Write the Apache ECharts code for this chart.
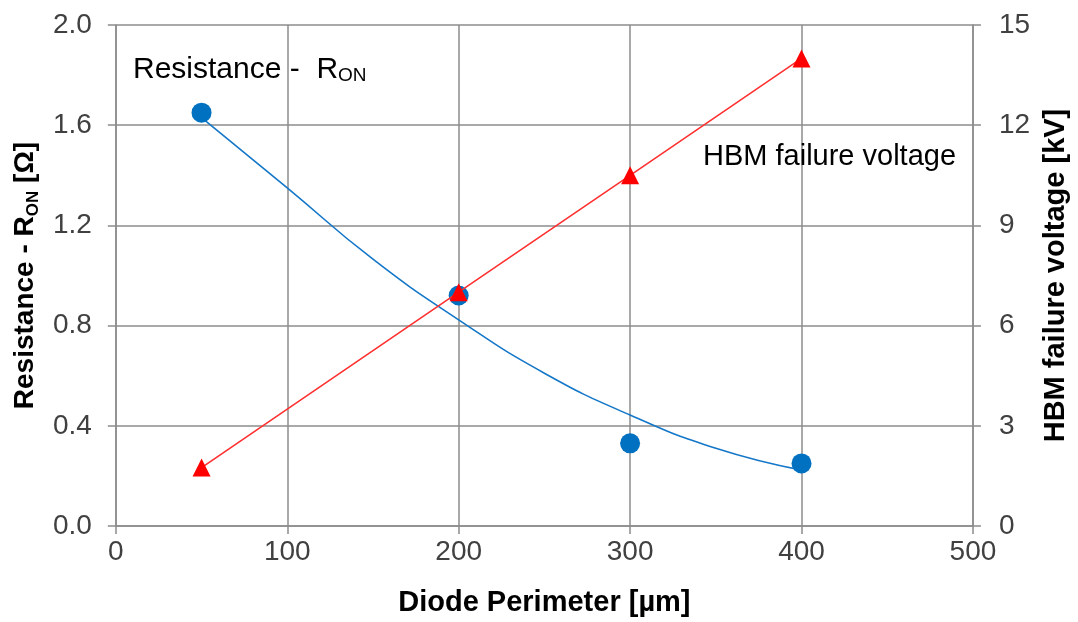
<!DOCTYPE html>
<html>
<head>
<meta charset="utf-8">
<script src="https://cdn.jsdelivr.net/npm/echarts@6/dist/echarts.min.js"></script>
<style>
html,body{margin:0;padding:0;background:#fff;}
#chart{width:1078px;height:622px;}
</style>
</head>
<body>
<div id="chart"></div>
<script>
// Data
const perimeter = [50, 200, 300, 400];
const resistance = [1.65, 0.92, 0.33, 0.25];
const hbmVoltage = [1.75, 7.0, 10.5, 14.0];
// Resistance trendline
const trendPerimeter = [50, 100, 150, 200, 250, 300, 350, 400];
const trendResistance = [1.63, 1.35, 1.065, 0.823, 0.61, 0.443, 0.31, 0.223];

const FONT = "'Liberation Sans', Arial, sans-serif";
const GRID = '#8c8c8c';

const chart = echarts.init(document.getElementById('chart'), null, {renderer: 'canvas'});

const tickStyle = {show: true, inside: false, length: 8, lineStyle: {color: GRID, width: 1.5}};
const lineAxis = {show: true, lineStyle: {color: GRID, width: 1.5}};
const split = {show: true, lineStyle: {color: GRID, width: 1.5}};
const labelStyle = {color: '#404040', fontFamily: FONT, fontSize: 28};
const nameStyle = {
  color: '#000', fontFamily: FONT, fontSize: 28, fontWeight: 'bold', lineHeight: 34,
  rich: {
    sub: {fontFamily: FONT, fontSize: 17, fontWeight: 'bold', color: '#000', verticalAlign: 'bottom', lineHeight: 22}
  }
};

chart.setOption({
  animation: false,
  backgroundColor: '#fff',
  grid: {left: 114, right: 100, top: 25, bottom: 93, containLabel: false},
  xAxis: {
    type: 'value', min: 0, max: 500, interval: 100,
    name: 'Diode Perimeter [µm]', nameLocation: 'middle', nameGap: 62,
    nameTextStyle: {color: '#000', fontFamily: FONT, fontSize: 29, fontWeight: 'bold'},
    axisLine: lineAxis, axisTick: tickStyle, splitLine: split,
    axisLabel: Object.assign({margin: 12}, labelStyle)
  },
  yAxis: [
    {
      type: 'value', min: 0, max: 2.0, interval: 0.4, position: 'left',
      name: 'Resistance - R{sub|ON} [Ω]', nameLocation: 'middle', nameGap: 66,
      nameTextStyle: nameStyle,
      axisLine: lineAxis, axisTick: tickStyle, splitLine: split,
      axisLabel: Object.assign({margin: 24, formatter: v => v.toFixed(1)}, labelStyle)
    },
    {
      type: 'value', min: 0, max: 15, interval: 3, position: 'right',
      name: 'HBM failure voltage [kV]', nameLocation: 'middle', nameGap: 59,
      nameTextStyle: {color: '#000', fontFamily: FONT, fontSize: 29, fontWeight: 'bold'},
      axisLine: lineAxis, axisTick: tickStyle, splitLine: {show: false},
      axisLabel: Object.assign({margin: 26}, labelStyle)
    }
  ],
  series: [
    {
      name: 'R_ON trend', type: 'line', yAxisIndex: 0, smooth: true, symbol: 'none',
      data: trendPerimeter.map((x, i) => [x, trendResistance[i]]),
      lineStyle: {color: '#1577c8', width: 1.6}, z: 2
    },
    {
      name: 'Resistance', type: 'scatter', yAxisIndex: 0, symbol: 'circle', symbolSize: 20,
      data: perimeter.map((x, i) => [x, resistance[i]]),
      itemStyle: {color: '#0070C0', opacity: 1}, z: 3
    },
    {
      name: 'HBM failure voltage', type: 'line', yAxisIndex: 1, symbol: 'triangle', symbolSize: [18, 18],
      data: perimeter.map((x, i) => [x, hbmVoltage[i]]),
      lineStyle: {color: '#ff3030', width: 1.6},
      itemStyle: {color: '#ff0000', opacity: 1}, z: 4
    }
  ],
  graphic: [
    {
      type: 'text', left: 133, top: 55, z: 10,
      style: {
        text: 'Resistance -  R{sub|ON}',
        fill: '#000', font: '30px ' + FONT,
        rich: {sub: {fontSize: 19, fontFamily: FONT, fill: '#000', verticalAlign: 'bottom', lineHeight: 22}}
      }
    },
    {
      type: 'text', left: 703, top: 142, z: 10,
      style: {text: 'HBM failure voltage', fill: '#000', font: '29px ' + FONT}
    }
  ]
});
</script>
</body>
</html>
